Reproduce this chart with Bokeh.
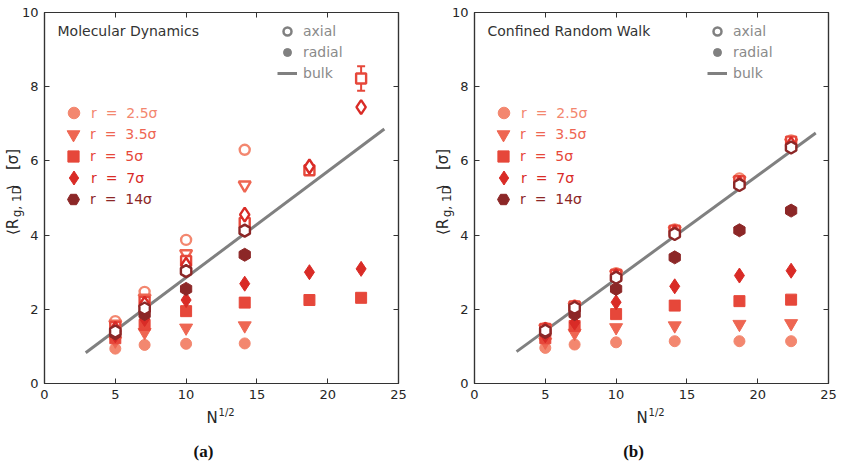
import numpy as np
from bokeh.plotting import figure
from bokeh.layouts import row
from bokeh.models import (Range1d, LinearAxis, SingleIntervalTicker, Label, Legend,
                          LegendItem, ColumnDataSource, Whisker, TeeHead, CustomJSTickFormatter)
from bokeh.embed import file_html
from bokeh.resources import INLINE

# ---------------- data ----------------
sqrt_n = [5.0, 7.07, 10.0, 14.14, 18.71, 22.36]
radius_labels = ["r  =  2.5σ", "r  =  3.5σ", "r  =  5σ", "r  =  7σ", "r  =  14σ"]

# Molecular Dynamics (panel a)
md_radial_r25 = [0.94, 1.04, 1.07, 1.08]
md_axial_r25 = [1.68, 2.47, 3.87, 6.30]
md_radial_r35 = [1.15, 1.38, 1.50, 1.56]
md_axial_r35 = [1.60, 2.30, 3.50, 5.35]
md_radial_r5 = [1.22, 1.58, 1.95, 2.18, 2.25, 2.31]
md_axial_r5 = [1.52, 2.20, 3.30, 4.33, 5.75, 8.22]
md_axial_r5_err = [0.0, 0.0, 0.0, 0.0, 0.0, 0.33]
md_radial_r7 = [1.30, 1.74, 2.25, 2.69, 3.00, 3.09]
md_axial_r7 = [1.47, 2.15, 3.20, 4.55, 5.85, 7.45]
md_radial_r14 = [1.35, 1.87, 2.55, 3.47]
md_axial_r14 = [1.40, 2.02, 3.03, 4.12]
md_bulk_x = [2.91, 24.0]
md_bulk_y = [0.83, 6.86]

# Confined Random Walk (panel b)
crw_radial_r25 = [0.96, 1.05, 1.11, 1.14, 1.14, 1.14]
crw_axial_r25 = [1.50, 2.10, 2.97, 4.15, 5.53, 6.55]
crw_radial_r35 = [1.12, 1.36, 1.51, 1.56, 1.60, 1.62]
crw_axial_r35 = [1.49, 2.08, 2.95, 4.13, 5.48, 6.50]
crw_radial_r5 = [1.22, 1.55, 1.87, 2.10, 2.22, 2.26]
crw_axial_r5 = [1.47, 2.08, 2.93, 4.12, 5.45, 6.52]
crw_radial_r7 = [1.30, 1.64, 2.19, 2.62, 2.91, 3.04]
crw_axial_r7 = [1.45, 2.05, 2.90, 4.08, 5.40, 6.45]
crw_radial_r14 = [1.38, 1.87, 2.55, 3.40, 4.13, 4.66]
crw_axial_r14 = [1.42, 2.04, 2.85, 4.03, 5.35, 6.36]
crw_bulk_x = [2.97, 24.1]
crw_bulk_y = [0.86, 6.75]

# ---------------- style ----------------
COLORS = ["#f3876f", "#ee6652", "#e6473a", "#d92b26", "#8c2727"]
MARKERS = ["circle", "inverted_triangle", "square", "diamond", "hex"]
SIZES = [11, 13, 11, 15, 13]
ANGLES = [0, 0, 0, 0, np.pi / 6]
LEGEND_GLYPH = [29, 32, 28, 35, 30]
GRAY = "#808080"
AX = "#333333"
TXT = "#262626"
FONT = "DejaVu Sans"
NB = "\u00a0"
YLABEL_MAIN = "⟨R" + NB * 6 + "⟩" + NB * 3 + "[σ]"


def style_axis(ax, interval, hidden=False):
    ax.ticker = SingleIntervalTicker(interval=interval)
    ax.major_tick_in = 5
    ax.major_tick_out = 0
    ax.minor_tick_in = 0
    ax.minor_tick_out = 0
    ax.minor_tick_line_color = None
    ax.axis_line_color = AX
    ax.major_tick_line_color = AX
    ax.axis_line_width = 1.2
    ax.major_label_text_font = FONT
    ax.major_label_text_font_size = "13px"
    ax.major_label_text_color = TXT
    ax.major_label_standoff = 6
    if hidden:
        ax.formatter = CustomJSTickFormatter(code="return ''")
        ax.major_label_text_font_size = "0px"
        ax.major_label_standoff = 0


def lab(p, place, x, y, text, size, angle=0.0, font=FONT, style="normal", color=TXT,
        align="left", baseline="alphabetic"):
    p.add_layout(Label(x=x, y=y, text=text, angle=angle, text_font=font,
                       text_font_size=size, text_font_style=style, text_color=color,
                       text_align=align, text_baseline=baseline), place)


def make_panel(title, radial, axial, errs, bulk_x, bulk_y, caption, b_left, b_right):
    p = figure(frame_width=354, frame_height=371, x_range=Range1d(0, 25), y_range=Range1d(0, 10),
               output_backend="svg", toolbar_location=None,
               min_border_left=b_left, min_border_right=b_right,
               min_border_top=12, min_border_bottom=81)
    p.grid.visible = False
    p.outline_line_color = AX
    p.outline_line_width = 1.2
    p.background_fill_color = "white"
    p.border_fill_color = "white"
    style_axis(p.xaxis[0], 5)
    style_axis(p.yaxis[0], 2)
    top = LinearAxis()
    style_axis(top, 5, hidden=True)
    p.add_layout(top, "above")
    right = LinearAxis()
    style_axis(right, 2, hidden=True)
    p.add_layout(right, "right")

    bulk = p.line(bulk_x, bulk_y, line_color=GRAY, line_width=3)

    radial_renderers = []
    for i in range(5):
        xr = sqrt_n[:len(radial[i])]
        r1 = p.scatter(xr, radial[i], marker=MARKERS[i], size=SIZES[i], angle=ANGLES[i],
                       fill_color=COLORS[i], line_color=COLORS[i], line_width=1)
        radial_renderers.append(r1)
        xa = sqrt_n[:len(axial[i])]
        if errs[i] is not None:
            idx = [k for k, e in enumerate(errs[i]) if e > 0]
            src = ColumnDataSource(dict(base=[xa[k] for k in idx],
                                        lower=[axial[i][k] - errs[i][k] for k in idx],
                                        upper=[axial[i][k] + errs[i][k] for k in idx]))
            w = Whisker(base="base", lower="lower", upper="upper", source=src, dimension="height",
                        line_color=COLORS[i], line_width=2,
                        upper_head=TeeHead(size=8, line_color=COLORS[i], line_width=2),
                        lower_head=TeeHead(size=8, line_color=COLORS[i], line_width=2))
            p.add_layout(w)
        p.scatter(xa, axial[i], marker=MARKERS[i], size=SIZES[i] - 1, angle=ANGLES[i],
                  fill_color="white", line_color=COLORS[i], line_width=2.4)

    centers = [112.3, 134.0, 155.7, 177.0, 198.7]
    for i in range(5):
        g = LEGEND_GLYPH[i]
        lg = Legend(items=[LegendItem(label=radius_labels[i], renderers=[radial_renderers[i]])],
                    location=(round(29.3 - g / 2), round(383 - (centers[i] + g / 2))),
                    glyph_width=g, glyph_height=g, label_height=g,
                    label_standoff=max(0, round(17.4 - g / 2)), padding=0, margin=0, spacing=0,
                    label_text_font=FONT, label_text_font_size="14px",
                    label_text_color=COLORS[i], border_line_color=None,
                    background_fill_alpha=0)
        p.add_layout(lg)

    ax_dummy = p.scatter([np.nan], [np.nan], marker="circle", size=8, fill_color="white",
                         line_color=GRAY, line_width=2.5)
    rad_dummy = p.scatter([np.nan], [np.nan], marker="circle", size=9, fill_color=GRAY,
                          line_color=GRAY)
    lg2 = Legend(items=[LegendItem(label="axial", renderers=[ax_dummy]),
                        LegendItem(label="radial", renderers=[rad_dummy]),
                        LegendItem(label="bulk", renderers=[bulk])],
                 location=(233, 383 - 83), glyph_width=20, glyph_height=20,
                 label_height=20, spacing=1, label_standoff=6, padding=0, margin=0,
                 label_text_font=FONT, label_text_font_size="14px",
                 label_text_color="#8a8a8a", border_line_color=None, background_fill_alpha=0)
    p.add_layout(lg2)

    lab(p, "center", 0.92, 9.51, title, "14px", color="#333333", baseline="middle")
    lab(p, "below", 11.44, -0.92, "N", "15px")
    lab(p, "below", 12.29, -0.78, "1/2", "10px")
    lab(p, "left", -2.19, 4.00, YLABEL_MAIN, "15px", angle=np.pi / 2)
    lab(p, "right", -1.94, 4.48, "g, 1D", "12px", angle=np.pi / 2)
    lab(p, "below", 11.23, -1.83, caption, "17px", font="Liberation Serif", style="bold",
        color="#111111", align="center")
    return p


p1 = make_panel("Molecular Dynamics",
                [md_radial_r25, md_radial_r35, md_radial_r5, md_radial_r7, md_radial_r14],
                [md_axial_r25, md_axial_r35, md_axial_r5, md_axial_r7, md_axial_r14],
                [None, None, md_axial_r5_err, None, None],
                md_bulk_x, md_bulk_y, "(a)", 44, 31)
p2 = make_panel("Confined Random Walk",
                [crw_radial_r25, crw_radial_r35, crw_radial_r5, crw_radial_r7, crw_radial_r14],
                [crw_axial_r25, crw_axial_r35, crw_axial_r5, crw_axial_r7, crw_axial_r14],
                [None, None, None, None, None],
                crw_bulk_x, crw_bulk_y, "(b)", 45, 12)

layout = row(p1, p2)
open("out.html", "w").write(file_html(layout, INLINE))
